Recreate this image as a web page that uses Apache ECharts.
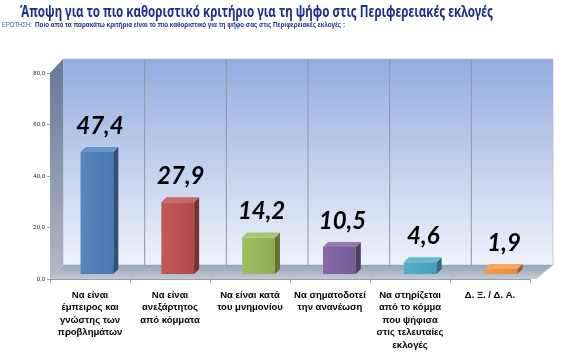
<!DOCTYPE html>
<html><head><meta charset="utf-8">
<script src="https://cdn.jsdelivr.net/npm/echarts@6/dist/echarts.min.js"></script>
<style>html,body{margin:0;padding:0;background:#fff}#c{width:570px;height:362px}</style>
</head><body><div id="c"></div>
<script>
const titleText = 'Άποψη για το πιο καθοριστικό κριτήριο για τη ψήφο στις Περιφερειακές εκλογές';
const questionLabel = 'ΕΡΩΤΗΣΗ:';
const questionText = 'Ποιο από τα παρακάτω κριτήρια είναι το πιο καθοριστικό για τη ψήφο σας στις Περιφερειακές εκλογές :';
const categories = [
  'Να είναι\nέμπειρος και\nγνώστης των\nπροβλημάτων',
  'Να είναι\nανεξάρτητος\nαπό κόμματα',
  'Να είναι κατά\nτου μνημονίου',
  'Να σηματοδοτεί\nτην ανανέωση',
  'Να στηρίζεται\nαπό το κόμμα\nπου ψήφισα\nστις τελευταίες\nεκλογές',
  'Δ. Ξ. / Δ. Α.'
];
const values = [47.4, 27.9, 14.2, 10.5, 4.6, 1.9];
const barColors = ['#4F81BD', '#C0504D', '#9BBB59', '#8064A2', '#4BACC6', '#F79646'];
const yMin = 0, yMax = 80, yStep = 20;

function shade(hex, f) {
  const n = parseInt(hex.slice(1), 16);
  let r = (n >> 16) & 255, g = (n >> 8) & 255, b = n & 255;
  const m = c => f < 0 ? Math.round(c * (1 + f)) : Math.round(c + (255 - c) * f);
  return 'rgb(' + m(r) + ',' + m(g) + ',' + m(b) + ')';
}
const fmt = v => v.toFixed(1).replace('.', ',');

const mctx = document.createElement('canvas').getContext('2d');
function widthOf(text, font) { mctx.font = font; return mctx.measureText(text).width; }
const titleFont = 'bold 16px "Noto Sans", sans-serif';
const titleScale = 473 / widthOf(titleText, titleFont);
const qLabelFont = '7px "Liberation Sans", sans-serif';
const qFont = 'bold 7.5px "Liberation Sans", sans-serif';
const qLabelScale = 30 / widthOf(questionLabel, qLabelFont);
const qScale = 310 / widthOf(questionText, qFont);

const chart = echarts.init(document.getElementById('c'), null, {renderer: 'canvas'});

function frame(api) {
  const bw = api.size([1, 0])[0];
  const c0 = api.coord([0, yMin]);
  const L = c0[0] - bw / 2;
  const R = L + categories.length * bw;
  const Y0 = c0[1];
  const Yt = api.coord([0, yMax])[1];
  return {bw, L, R, Y0, Yt};
}

function wallsRender(params, api) {
  const f = frame(api);
  const dy = -14;
  const bx = x => x + 13 + (x - f.L) / (f.R - f.L) * 10;
  const children = [];
  children.push({type: 'polygon', shape: {points: [[bx(f.L), f.Yt + dy], [bx(f.R), f.Yt + dy], [bx(f.R), f.Y0 + dy], [bx(f.L), f.Y0 + dy]]},
    style: {fill: new echarts.graphic.LinearGradient(0, 0, 0, 1, [{offset: 0, color: '#93ace0'}, {offset: 1, color: '#eef2fa'}]), stroke: '#aab4c4', lineWidth: 0.6}});
  children.push({type: 'polygon', shape: {points: [[f.L, f.Yt], [bx(f.L), f.Yt + dy], [bx(f.L), f.Y0 + dy], [f.L, f.Y0]]},
    style: {fill: new echarts.graphic.LinearGradient(0, 0, 0, 1, [{offset: 0, color: '#66779a'}, {offset: 1, color: '#b4b9c2'}])}});
  children.push({type: 'polygon', shape: {points: [[f.L, f.Y0], [f.R + 6, f.Y0], [bx(f.R), f.Y0 + dy], [bx(f.L), f.Y0 + dy]]},
    style: {fill: new echarts.graphic.LinearGradient(0, 0, 0, 1, [{offset: 0, color: '#98a4ba'}, {offset: 1, color: '#c3cad6'}])}});
  for (let k = 1; k < categories.length; k++) {
    const x = f.L + k * f.bw;
    children.push({type: 'line', shape: {x1: bx(x), y1: f.Yt + dy, x2: bx(x), y2: f.Y0 + dy}, style: {stroke: '#8c97a8', lineWidth: 1}});
    children.push({type: 'line', shape: {x1: x, y1: f.Y0, x2: bx(x), y2: f.Y0 + dy}, style: {stroke: '#aeb6c4', lineWidth: 1}});
  }
  children.push({type: 'line', shape: {x1: f.R + 6, y1: f.Y0, x2: bx(f.R), y2: f.Y0 + dy}, style: {stroke: '#c8cdd6', lineWidth: 1}});
  return {type: 'group', children};
}

function barsRender(params, api) {
  const f = frame(api);
  const i = api.value(0), v = api.value(1);
  const base = api.coord([i, 0]);
  const top = api.coord([i, v]);
  const off = 6.5 + (base[0] - f.L) / (f.R - f.L) * 5;
  const cx = base[0] + off;
  const y0 = base[1] - 5, y1 = top[1] - 5;
  const w = f.bw * 0.41, d = 5;
  const x0 = cx - w / 2, x1 = cx + w / 2;
  const c = barColors[i];
  return {type: 'group', children: [
    {type: 'rect', shape: {x: x0, y: y1, width: w, height: y0 - y1},
      style: {fill: new echarts.graphic.LinearGradient(0, 0, 1, 0, [{offset: 0, color: shade(c, 0.05)}, {offset: 1, color: shade(c, -0.08)}])}},
    {type: 'polygon', shape: {points: [[x1, y1], [x1 + d, y1 - d], [x1 + d, y0 - d], [x1, y0]]}, style: {fill: shade(c, -0.38)}},
    {type: 'polygon', shape: {points: [[x0, y1], [x0 + d, y1 - d], [x1 + d, y1 - d], [x1, y1]]}, style: {fill: shade(c, 0.15)}},
    {type: 'text', style: {text: fmt(v), x: cx + 3, y: y1 - 26, align: 'center', verticalAlign: 'middle',
      font: 'italic bold 24px Lato, "Liberation Sans", sans-serif', fill: '#000'}}
  ]};
}

chart.setOption({
  animation: false,
  backgroundColor: '#fff',
  graphic: [
    {type: 'text', x: 20, y: 12, scaleX: titleScale, style: {text: titleText, font: titleFont, fill: '#1c2e8f', verticalAlign: 'middle'}},
    {type: 'text', x: 2, y: 25, scaleX: qLabelScale, style: {text: questionLabel, font: qLabelFont, fill: '#3d5fa0', verticalAlign: 'middle'}},
    {type: 'text', x: 35, y: 25, scaleX: qScale, style: {text: questionText, font: qFont, fill: '#1c2e8f', verticalAlign: 'middle'}}
  ],
  grid: {left: 50, right: 40, top: 73, bottom: 83, containLabel: false},
  xAxis: {
    type: 'category', data: categories,
    axisLine: {show: true, lineStyle: {color: '#9aa0aa', width: 1}},
    axisTick: {show: true, length: 4, lineStyle: {color: '#9aa0aa'}},
    axisLabel: {interval: 0, margin: 10, fontSize: 9.5, fontWeight: 'bold', lineHeight: 12.5, color: '#000',
      fontFamily: '"Liberation Sans", sans-serif'},
    splitLine: {show: false}
  },
  yAxis: {
    type: 'value', min: yMin, max: yMax, interval: yStep,
    axisLine: {show: true, lineStyle: {color: '#9aa0aa'}},
    axisTick: {show: true, length: 3, lineStyle: {color: '#9aa0aa'}},
    axisLabel: {fontSize: 6, color: '#222', margin: 5, formatter: v => fmt(v), fontFamily: '"Liberation Sans", sans-serif'},
    splitLine: {show: false}
  },
  series: [
    {type: 'custom', name: 'walls', renderItem: wallsRender, data: [[0, 0]], z: 1, silent: true},
    {type: 'custom', name: 'bars', renderItem: barsRender, data: values.map((v, i) => [i, v]), z: 3, encode: {x: 0, y: 1}}
  ]
});
</script>
</body></html>
